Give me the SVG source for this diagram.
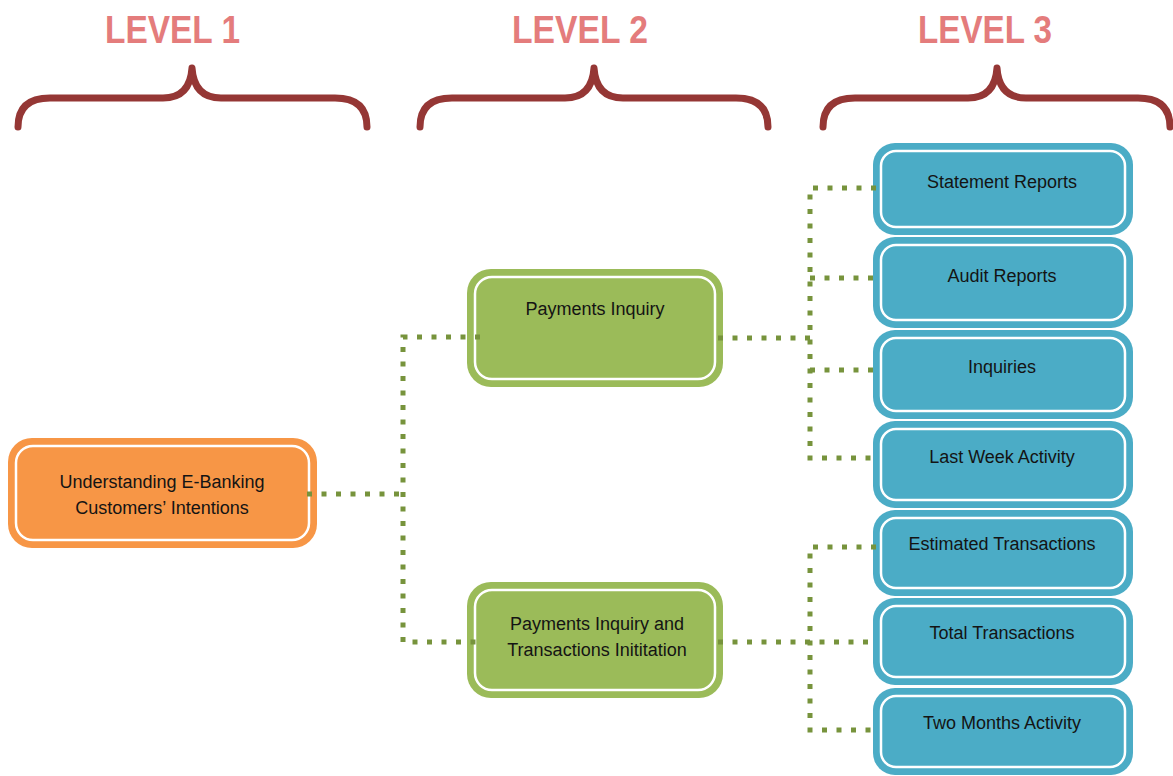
<svg xmlns="http://www.w3.org/2000/svg" width="1173" height="776" viewBox="0 0 1173 776">
<style>
.lvl{font-family:"Liberation Sans",Arial,sans-serif;font-weight:bold;font-size:38px;fill:#E47C7C;text-anchor:middle}
.brace{fill:none;stroke:#953735;stroke-width:7;stroke-linecap:round;stroke-linejoin:round}
.lbl{font-family:"Liberation Sans",Arial,sans-serif;font-size:18px;fill:#141414;text-anchor:middle}
.inner{fill:none;stroke:#FFFFFF;stroke-width:2.5}
.or{fill:#F79646}
.gr{fill:#9BBB59}
.bl{fill:#4BACC6}
.conn{fill:none;stroke:#77933C;stroke-width:5;stroke-dasharray:5 9.5}
</style>
<rect width="1173" height="776" fill="#FFFFFF"/>
<g id="headers">
<text class="lvl" x="172.5" y="43" textLength="135" lengthAdjust="spacingAndGlyphs">LEVEL 1</text>
<text class="lvl" x="580" y="43" textLength="136" lengthAdjust="spacingAndGlyphs">LEVEL 2</text>
<text class="lvl" x="985" y="43" textLength="134" lengthAdjust="spacingAndGlyphs">LEVEL 3</text>
<path class="brace" d="M18,127 Q18,98 50,98 L163,98 Q190,98 192,68 Q194,98 221,98 L335,98 Q367,98 367,127"/>
<path class="brace" d="M420,127 Q420,98 452,98 L565,98 Q592,98 594,68 Q596,98 623,98 L736,98 Q768,98 768,127"/>
<path class="brace" d="M823,127 Q823,98 855,98 L968,98 Q995,98 997,68 Q999,98 1026,98 L1138,98 Q1170,98 1170,127"/>
</g>
<g id="n-root">
<rect class="or" x="8" y="438" width="309" height="110" rx="24"/>
<rect class="inner" x="16" y="446" width="293" height="94" rx="17"/>
<text class="lbl" x="162" y="488">Understanding E-Banking</text>
<text class="lbl" x="162" y="514">Customers’ Intentions</text>
</g>
<g id="n-pi">
<rect class="gr" x="467" y="269" width="256" height="118" rx="24"/>
<rect class="inner" x="475" y="277" width="240" height="102" rx="17"/>
<text class="lbl" x="595" y="315">Payments Inquiry</text>
</g>
<g id="n-pit">
<rect class="gr" x="467" y="582" width="256" height="116" rx="24"/>
<rect class="inner" x="475" y="590" width="240" height="100" rx="17"/>
<text class="lbl" x="597" y="630">Payments Inquiry and</text>
<text class="lbl" x="597" y="656">Transactions Inititation</text>
</g>
<g id="n-sr">
<rect class="bl" x="873" y="143" width="260" height="92" rx="22"/>
<rect class="inner" x="881" y="151" width="244" height="76" rx="15"/>
<text class="lbl" x="1002" y="188">Statement Reports</text>
</g>
<g id="n-ar">
<rect class="bl" x="873" y="237" width="260" height="91" rx="22"/>
<rect class="inner" x="881" y="245" width="244" height="75" rx="15"/>
<text class="lbl" x="1002" y="282">Audit Reports</text>
</g>
<g id="n-inq">
<rect class="bl" x="873" y="330" width="260" height="89" rx="22"/>
<rect class="inner" x="881" y="338" width="244" height="73" rx="15"/>
<text class="lbl" x="1002" y="373">Inquiries</text>
</g>
<g id="n-lwa">
<rect class="bl" x="873" y="421" width="260" height="87" rx="22"/>
<rect class="inner" x="881" y="429" width="244" height="71" rx="15"/>
<text class="lbl" x="1002" y="463">Last Week Activity</text>
</g>
<g id="n-et">
<rect class="bl" x="873" y="510" width="260" height="86" rx="22"/>
<rect class="inner" x="881" y="518" width="244" height="70" rx="15"/>
<text class="lbl" x="1002" y="550">Estimated Transactions</text>
</g>
<g id="n-tt">
<rect class="bl" x="873" y="598" width="260" height="87" rx="22"/>
<rect class="inner" x="881" y="606" width="244" height="71" rx="15"/>
<text class="lbl" x="1002" y="639">Total Transactions</text>
</g>
<g id="n-tma">
<rect class="bl" x="873" y="688" width="260" height="87" rx="22"/>
<rect class="inner" x="881" y="696" width="244" height="71" rx="15"/>
<text class="lbl" x="1002" y="729">Two Months Activity</text>
</g>
<g id="connectors">
<path class="conn" d="M307,494 H403"/>
<path class="conn" d="M480,337 H403 V642 H480"/>
<path class="conn" d="M718,338 H810"/>
<path class="conn" d="M876,188 H810 V458 H876"/>
<path class="conn" d="M810,278 H876"/>
<path class="conn" d="M810,370 H876"/>
<path class="conn" d="M718,642 H876"/>
<path class="conn" d="M876,547 H810 V730 H876"/>
</g>
</svg>
